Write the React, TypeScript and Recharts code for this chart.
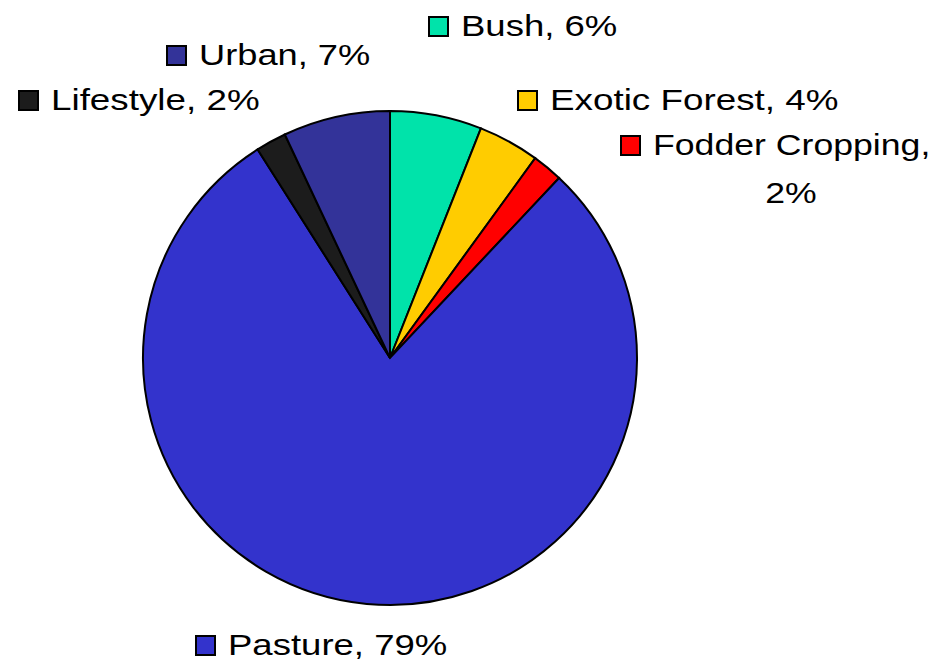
import React from 'react';
import { PieChart, Pie, Cell } from 'recharts';

// Land use shares (%), listed clockwise from 12 o'clock
const categories = ['Bush', 'Exotic Forest', 'Fodder Cropping', 'Pasture', 'Lifestyle', 'Urban'];
const shares = [6, 4, 2, 79, 2, 7];
const colours = ['#00E3AA', '#FFCC00', '#FF0000', '#3333CC', '#1C1C1C', '#333399'];

// Label placement: offset of the legend square's left edge and the text baseline from the pie centre
const labelOffsets: [number, number][] = [
  [38, -322],
  [127, -248],
  [230, -203],
  [-195, 297],
  [-372, -248],
  [-224, -293],
];
// Horizontal stretch of each label's lettering
const labelStretch = [1.26, 1.27, 1.229, 1.26, 1.27, 1.25];
// Labels that break after the comma
const wrapAfterComma = [false, false, true, false, false, false];

const data = categories.map((name, i) => ({ name, value: shares[i] }));

const FONT = '"Liberation Sans", Arial, sans-serif';
const FONT_SIZE = 29;
const BOX = 21;
const TEXT_GAP = 33;
const WRAP_CENTRE = 138; // centre of the wrapped first line, from its start
const LINE_HEIGHT = 48;

const renderLabel = (props: any) => {
  const { cx, cy, index, name, value } = props;
  const [dx, dy] = labelOffsets[index];
  const x = cx + dx;
  const y = cy + dy;
  const tx = x + TEXT_GAP;
  const s = labelStretch[index];
  const wrap = wrapAfterComma[index];
  return (
    <g key={`lbl-${index}`}>
      <rect x={x + 1} y={y - 19} width={BOX - 2} height={BOX - 2} fill={colours[index]} stroke="#000" strokeWidth={2} />
      <g transform={`translate(${tx},${y}) scale(${s},1)`}>
        {wrap ? (
          <>
            <text x={0} y={0} fontFamily={FONT} fontSize={FONT_SIZE} fill="#000">{`${name},`}</text>
            <text x={WRAP_CENTRE / s} y={LINE_HEIGHT} fontFamily={FONT} fontSize={FONT_SIZE} fill="#000" textAnchor="middle">{`${value}%`}</text>
          </>
        ) : (
          <text x={0} y={0} fontFamily={FONT} fontSize={FONT_SIZE} fill="#000">{`${name}, ${value}%`}</text>
        )}
      </g>
    </g>
  );
};

export default function App() {
  return (
    <div style={{ position: 'absolute', left: 0, top: 0, width: 935, height: 663, background: '#fff' }}>
      <PieChart width={935} height={663} margin={{ top: 0, right: 0, bottom: 0, left: 0 }}>
        <Pie
          data={data}
          dataKey="value"
          nameKey="name"
          cx={390}
          cy={358}
          outerRadius={247}
          startAngle={90}
          endAngle={-270}
          stroke="#000"
          strokeWidth={2}
          label={renderLabel}
          labelLine={false}
          isAnimationActive={false}
        >
          {data.map((d, i) => (
            <Cell key={d.name} fill={colours[i]} stroke="#000" strokeWidth={2} />
          ))}
        </Pie>
      </PieChart>
    </div>
  );
}
